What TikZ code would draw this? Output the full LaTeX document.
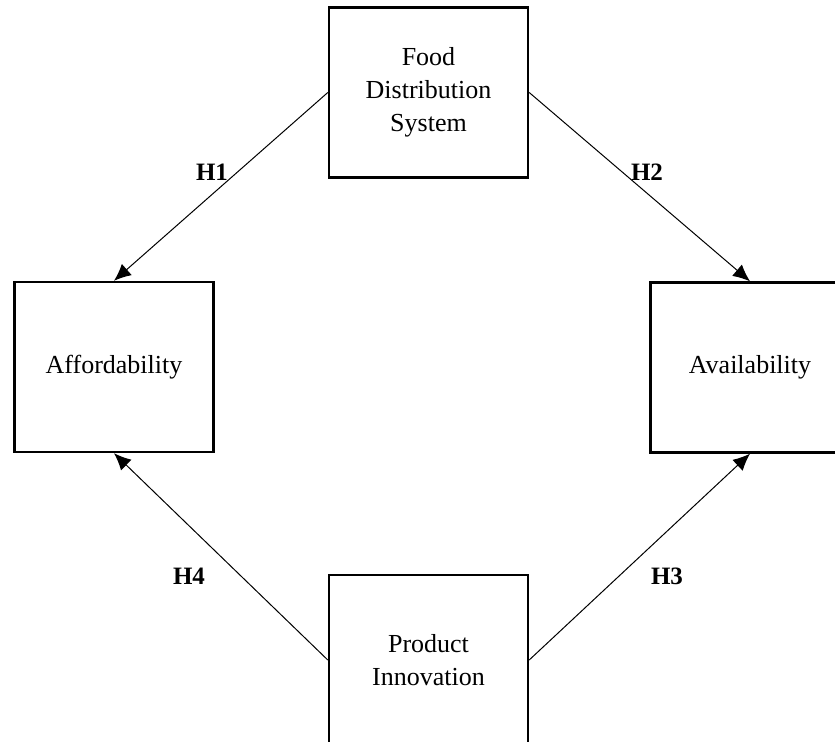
\documentclass[tikz,border=0pt]{standalone}
\usepackage{fontspec}
\setmainfont{Liberation Serif}
\usetikzlibrary{arrows.meta}

\tikzset{
  factor/.style={draw, line width=1.2pt, minimum width=99.5pt, minimum height=85pt,
    inner sep=0pt, align=center, font=\fontsize{13}{16.5}\selectfont},
  link/.style={line width=0.5pt, -{Latex[length=8.5pt,width=7.5pt]}},
  hyp/.style={font=\fontsize{12.5}{14}\selectfont\bfseries, inner sep=0pt}
}

\begin{document}
\begin{tikzpicture}[x=0.5pt,y=-0.5pt]
  \useasboundingbox (0,0) rectangle (835,742);
  \clip (0,0) rectangle (835,742);

  % constructs
  \node[factor] (fds)  at (428.5,92.5) {Food\\Distribution\\System};
  \node[factor] (aff)  at (114,367)    {Affordability};
  \node[factor] (avl)  at (750,367.5)  {Availability};
  \node[factor] (prod) at (428.5,660)  {Product\\Innovation};

  % hypothesised paths
  \draw[link] (fds.west)  -- (aff.north);
  \draw[link] (fds.east)  -- (avl.north);
  \draw[link] (prod.west) -- (aff.south);
  \draw[link] (prod.east) -- (avl.south);

  % hypothesis labels
  \node[hyp] (h1) at (212,172) {H1};
  \node[hyp] (h2) at (647,172) {H2};
  \node[hyp] (h3) at (667,576) {H3};
  \node[hyp] (h4) at (189,576) {H4};
\end{tikzpicture}
\end{document}
